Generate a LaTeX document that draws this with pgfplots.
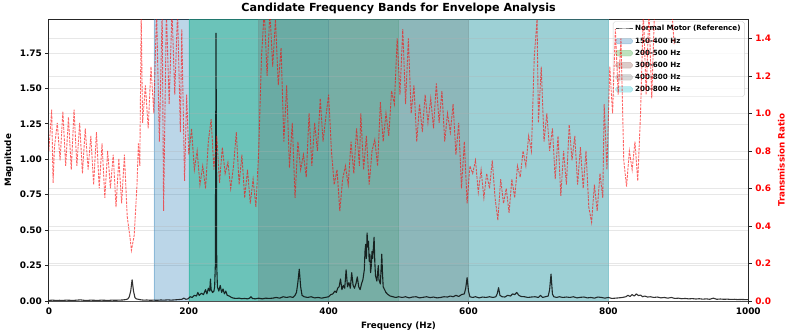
\documentclass[border=0pt]{standalone}
\usepackage{fontspec}
\setmainfont{DejaVu Sans}
\usepackage{pgfplots}
\pgfplotsset{compat=1.18}
\definecolor{tabblue}{HTML}{1F77B4}
\definecolor{tabgreen}{HTML}{2CA02C}
\definecolor{tabbrown}{HTML}{8C564B}
\definecolor{tabgray}{HTML}{7F7F7F}
\definecolor{tabcyan}{HTML}{17BECF}
\definecolor{gridc}{HTML}{B0B0B0}
\begin{document}
\begin{tikzpicture}
\pgfplotsset{
  common/.style={
    scale only axis, width=701bp, height=282bp,
    xmin=0, xmax=1000,
    axis line style={line width=0.8bp, black!85},
    tick align=outside, major tick length=3.5bp,
    tick style={line width=0.8bp, black!85},
    /pgf/number format/assume math mode=true,
    ticklabel style={font=\fontsize{9}{10}\selectfont\bfseries},
    label style={font=\fontsize{8.8}{10}\selectfont\bfseries},
    ymajorgrids, grid style={gridc, line width=0.6bp, opacity=0.3},
  }
}
\begin{axis}[common, name=ax1,
  ymin=0, ymax=1.985,
  xtick={0,200,400,600,800,1000},
  xticklabel style={/pgf/number format/1000 sep={}},
  ytick={0,0.25,0.5,0.75,1,1.25,1.5,1.75},
  yticklabel style={/pgf/number format/.cd, fixed, fixed zerofill, precision=2},
  xtick pos=lower, ytick pos=left,
  xlabel={Frequency (Hz)}, ylabel={Magnitude},
  title={Candidate Frequency Bands for Envelope Analysis},
  title style={font=\fontsize{11.2}{12}\selectfont\bfseries, yshift=-4bp},
  legend cell align=left,
  legend style={at={(0.995,0.994)}, anchor=north east, font=\fontsize{7.2}{8}\selectfont\bfseries,
    draw=gray!35, fill=white, fill opacity=0.8, text opacity=1, rounded corners=2pt,
    row sep=1.3pt, inner sep=2pt},
  area legend,
]
\addlegendimage{line legend, black!70, line width=1bp}
\addlegendentry{Normal Motor (Reference)}
\addplot[fill=tabblue, fill opacity=0.3, draw=tabblue, draw opacity=0.3] coordinates {(150,0) (150,2.2) (400,2.2) (400,0)} \closedcycle;
\addlegendentry{150-400 Hz}
\addplot[fill=tabgreen, fill opacity=0.3, draw=tabgreen, draw opacity=0.3] coordinates {(200,0) (200,2.2) (500,2.2) (500,0)} \closedcycle;
\addlegendentry{200-500 Hz}
\addplot[fill=tabbrown, fill opacity=0.3, draw=tabbrown, draw opacity=0.3] coordinates {(300,0) (300,2.2) (600,2.2) (600,0)} \closedcycle;
\addlegendentry{300-600 Hz}
\addplot[fill=tabgray, fill opacity=0.3, draw=tabgray, draw opacity=0.3] coordinates {(400,0) (400,2.2) (800,2.2) (800,0)} \closedcycle;
\addlegendentry{400-800 Hz}
\addplot[fill=tabcyan, fill opacity=0.3, draw=tabcyan, draw opacity=0.3] coordinates {(200,0) (200,2.2) (800,2.2) (800,0)} \closedcycle;
\addlegendentry{200-800 Hz}
\addplot[forget plot, black, draw opacity=0.8, line width=1.1bp, line join=round] coordinates {
(0,0.004) (5,0.006) (10,0.004) (15,0.005) (20,0.004) (25,0.006) (30,0.005) (35,0.004) (40,0.006) (45,0.008)
(50,0.005) (55,0.004) (60,0.006) (65,0.005) (70,0.004) (75,0.006) (80,0.005) (85,0.004) (90,0.006) (95,0.005)
(100,0.006) (105,0.007) (110,0.01) (113,0.015) (115,0.03) (117,0.07) (119,0.15) (121,0.07) (123,0.025) (125,0.015)
(128,0.012) (132,0.008) (136,0.006) (140,0.007) (145,0.005) (150,0.006) (155,0.005) (160,0.007) (165,0.006) (170,0.008)
(175,0.006) (180,0.008) (185,0.01) (190,0.012) (193,0.02) (196,0.012) (199,0.015) (202,0.03) (205,0.025) (208,0.04)
(211,0.035) (213,0.06) (215,0.04) (218,0.055) (221,0.045) (224,0.08) (226,0.05) (228,0.09) (230,0.07) (231,0.155)
(232,0.08) (234,0.06) (236,0.07) (237,0.1) (238,0.25) (239,1.89) (240,0.25) (241,0.1) (243,0.07) (245,0.11)
(247,0.06) (249,0.085) (251,0.05) (253,0.07) (255,0.04) (258,0.035) (261,0.025) (264,0.02) (268,0.018) (272,0.02)
(276,0.016) (280,0.018) (284,0.015) (287,0.02) (289,0.03) (291,0.018) (295,0.015) (300,0.02) (305,0.015) (310,0.02)
(315,0.018) (320,0.02) (325,0.025) (330,0.02) (335,0.03) (340,0.025) (345,0.03) (349,0.025) (352,0.04) (354,0.06)
(356,0.13) (358,0.225) (360,0.1) (362,0.04) (365,0.03) (370,0.025) (375,0.03) (380,0.022) (385,0.025) (390,0.02)
(395,0.025) (400,0.03) (403,0.045) (406,0.05) (409,0.07) (411,0.06) (413,0.09) (415,0.1) (417,0.155) (419,0.08)
(421,0.11) (423,0.09) (425,0.22) (427,0.1) (429,0.13) (431,0.09) (433,0.2) (435,0.11) (437,0.09) (439,0.12)
(441,0.17) (443,0.1) (445,0.08) (447,0.12) (449,0.15) (451,0.22) (452,0.35) (453,0.4) (454,0.3) (455,0.48)
(456,0.38) (457,0.42) (458,0.28) (459,0.33) (460,0.2) (461,0.25) (462,0.35) (463,0.3) (465,0.45) (466,0.28)
(467,0.18) (469,0.14) (471,0.25) (472,0.15) (474,0.12) (476,0.33) (477,0.2) (478,0.1) (480,0.08) (482,0.06)
(485,0.045) (488,0.035) (492,0.03) (496,0.025) (500,0.03) (505,0.025) (510,0.03) (515,0.022) (520,0.028) (525,0.03)
(530,0.022) (535,0.026) (540,0.03) (545,0.024) (550,0.028) (555,0.022) (560,0.025) (565,0.03) (570,0.028) (574,0.035)
(578,0.03) (582,0.04) (586,0.032) (590,0.045) (594,0.05) (596,0.09) (598,0.165) (600,0.07) (602,0.03) (606,0.025)
(610,0.03) (615,0.022) (620,0.028) (625,0.025) (630,0.03) (635,0.025) (639,0.03) (641,0.05) (643,0.094) (645,0.04)
(648,0.03) (652,0.028) (656,0.04) (660,0.035) (663,0.05) (666,0.045) (669,0.06) (672,0.04) (675,0.032) (680,0.03)
(685,0.025) (690,0.028) (695,0.03) (700,0.025) (703,0.04) (706,0.025) (710,0.03) (714,0.035) (716,0.08) (718,0.19)
(720,0.05) (722,0.03) (726,0.025) (730,0.03) (735,0.025) (740,0.028) (745,0.025) (750,0.03) (755,0.022) (760,0.026)
(765,0.028) (770,0.022) (775,0.025) (780,0.02) (785,0.028) (790,0.025) (795,0.02) (800,0.025) (805,0.018) (810,0.02)
(815,0.022) (820,0.025) (825,0.03) (828,0.04) (831,0.032) (834,0.045) (837,0.035) (840,0.05) (843,0.038) (846,0.042)
(849,0.03) (852,0.035) (856,0.028) (860,0.03) (865,0.025) (870,0.028) (875,0.022) (880,0.025) (885,0.02) (890,0.025)
(895,0.018) (900,0.02) (905,0.016) (910,0.018) (915,0.015) (920,0.017) (925,0.014) (930,0.016) (935,0.013) (940,0.015)
(945,0.012) (950,0.02) (955,0.012) (960,0.014) (965,0.012) (970,0.013) (975,0.011) (980,0.012) (985,0.01) (990,0.011)
(995,0.01) (1000,0.01)
};
\end{axis}
\begin{axis}[common,
  ymin=0, ymax=1.5,
  axis y line*=right, axis x line=none,
  ytick={0,0.2,0.4,0.6,0.8,1.0,1.2,1.4},
  yticklabel style={red, /pgf/number format/.cd, fixed, fixed zerofill, precision=1},
  ylabel={Transmission Ratio}, ylabel style={red},
]
\addplot[red, draw opacity=0.6, line width=0.9bp, dash pattern=on 2.6bp off 1.1bp] coordinates {
(0,0.80) (4,1.02) (6,0.63) (8,0.82) (12,0.95) (16,0.75) (20,1.01) (24,0.72) (28,0.98) (32,0.70)
(36,1.02) (40,0.72) (44,0.95) (48,0.68) (52,0.92) (56,0.70) (60,0.88) (64,0.62) (68,0.90) (72,0.60)
(76,0.84) (80,0.55) (84,0.80) (88,0.60) (92,0.78) (96,0.50) (100,0.76) (104,0.52) (108,0.78) (112,0.45)
(116,0.34) (118,0.27) (122,0.35) (126,0.62) (128,0.84) (130,0.72) (132,1.52) (134,0.95) (138,1.15) (142,0.92)
(146,1.25) (150,1.00) (154,1.55) (158,0.85) (162,1.55) (164,0.48) (168,1.55) (172,1.05) (176,1.55) (180,1.10)
(184,1.55) (188,0.90) (190,1.45) (194,0.64) (197,1.10) (200,0.78) (204,0.92) (208,0.70) (212,0.80) (216,0.62)
(220,0.72) (224,0.60) (228,0.85) (232,0.97) (236,0.70) (240,0.88) (244,0.63) (248,0.82) (252,0.68) (256,0.74)
(260,0.60) (264,0.72) (268,0.90) (272,0.62) (276,0.78) (280,0.55) (284,0.70) (288,0.52) (292,0.65) (296,0.50)
(300,0.80) (304,1.30) (308,1.55) (312,1.20) (316,1.55) (320,1.25) (324,1.50) (328,1.15) (332,1.35) (336,0.85)
(340,1.15) (344,0.71) (348,0.95) (352,0.55) (356,0.85) (360,0.70) (364,0.78) (368,0.66) (372,1.00) (376,0.72)
(380,0.95) (384,0.80) (388,1.08) (392,0.85) (396,0.98) (400,1.10) (404,0.80) (408,0.62) (412,0.70) (416,0.48)
(420,0.65) (424,0.72) (428,0.62) (432,0.85) (436,0.68) (440,0.92) (444,0.72) (446,1.00) (450,0.70) (454,0.88)
(458,0.62) (462,0.80) (466,0.86) (470,0.72) (474,1.06) (478,0.85) (482,1.00) (486,0.88) (490,1.12) (494,1.05)
(498,1.40) (502,1.10) (506,1.45) (510,1.05) (514,1.40) (518,1.00) (522,1.15) (526,0.85) (530,1.05) (534,0.90)
(538,1.10) (542,0.95) (546,1.08) (550,0.92) (554,1.16) (558,0.95) (562,1.12) (566,0.85) (570,1.00) (574,0.90)
(578,1.05) (582,0.78) (586,0.95) (590,0.60) (594,0.85) (598,0.52) (602,0.72) (606,0.68) (610,0.75) (614,0.58)
(618,0.70) (622,0.55) (626,0.68) (630,0.60) (634,0.75) (638,0.55) (642,0.43) (646,0.65) (650,0.52) (654,0.60)
(658,0.47) (662,0.65) (666,0.55) (670,0.72) (674,0.66) (678,0.80) (682,0.72) (686,0.88) (690,0.80) (694,1.30)
(698,1.50) (700,0.95) (704,1.25) (708,0.85) (712,1.00) (716,0.80) (720,0.92) (724,0.65) (728,0.88) (732,0.56)
(736,0.80) (740,0.62) (744,0.94) (748,0.75) (752,0.88) (756,0.62) (760,0.82) (764,0.60) (768,0.80) (772,0.50)
(776,0.42) (780,0.62) (784,0.48) (788,0.68) (792,0.55) (794,1.05) (798,0.70) (802,1.25) (806,1.00) (810,1.45)
(814,1.10) (818,1.40) (822,0.75) (826,0.61) (830,0.80) (834,0.70) (838,0.85) (842,0.64) (846,1.00) (850,1.55)
(854,1.10) (858,1.55) (862,1.08) (866,1.55) (870,1.60) (880,1.65) (890,1.60) (894,1.37)
};
\end{axis}
\path ([shift={(-49bp,-28bp)}]ax1.south west) rectangle ([shift={(38bp,18bp)}]ax1.north east);
\end{tikzpicture}
\end{document}
